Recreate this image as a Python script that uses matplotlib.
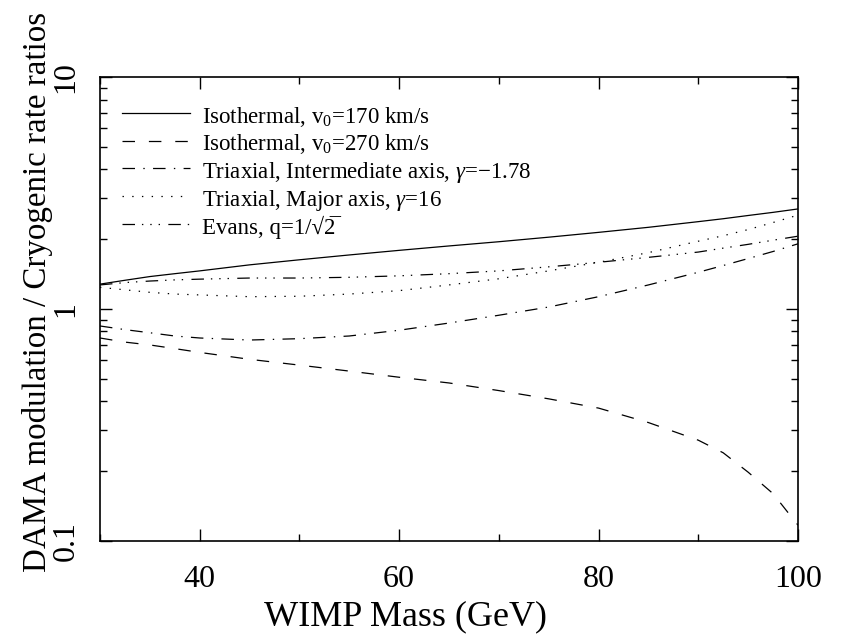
import numpy as np
import matplotlib
matplotlib.use("Agg")
import matplotlib.pyplot as plt
from matplotlib.ticker import MultipleLocator, LogLocator, NullFormatter, FixedLocator

# === Fonts ===
plt.rcParams["font.family"] = ["Liberation Serif", "DejaVu Serif"]
plt.rcParams["mathtext.fontset"] = "custom"
plt.rcParams["mathtext.rm"] = "Liberation Serif"
plt.rcParams["mathtext.it"] = "Liberation Serif:italic"
plt.rcParams["lines.scale_dashes"] = False

# === Data ===
mass = [30, 32.5, 35, 37.5, 40, 45, 50, 55, 60, 65, 70, 75, 80, 85, 90, 92.5, 95, 97.5, 100]

iso_170 = [1.28, 1.33, 1.38, 1.42, 1.46, 1.55, 1.63, 1.71, 1.79, 1.87, 1.95, 2.04,
           2.14, 2.25, 2.38, 2.45, 2.53, 2.61, 2.70]
iso_270 = [0.75, 0.72, 0.70, 0.675, 0.65, 0.607, 0.573, 0.54, 0.508, 0.48, 0.445, 0.41,
           0.374, 0.324, 0.272, 0.24, 0.198, 0.16, 0.117]
tri_inter = [0.845, 0.815, 0.79, 0.765, 0.75, 0.735, 0.745, 0.765, 0.81, 0.87, 0.94, 1.02,
             1.13, 1.27, 1.44, 1.54, 1.65, 1.77, 1.91]
tri_major = [1.24, 1.21, 1.18, 1.16, 1.15, 1.13, 1.135, 1.16, 1.20, 1.27, 1.35, 1.46,
             1.59, 1.75, 1.96, 2.07, 2.20, 2.36, 2.54]
evans = [1.27, 1.30, 1.32, 1.335, 1.345, 1.36, 1.36, 1.37, 1.39, 1.42, 1.46, 1.52,
         1.59, 1.67, 1.76, 1.83, 1.90, 1.98, 2.06]

labels = [
    r"Isothermal, v$_0$=170 km/s",
    r"Isothermal, v$_0$=270 km/s",
    r"Triaxial, Intermediate axis, $\gamma$=$-$1.78",
    r"Triaxial, Major axis, $\gamma$=16",
    "Evans, q=1/\u221a2\u0305",
]

# === Plot ===
fig = plt.figure(figsize=(8.43, 6.34), dpi=100)
ax = fig.add_axes([0.1186, 0.1467, 0.8280, 0.7318])

lw = 0.9
ax.plot(mass, iso_170, color="black", lw=lw, linestyle="-", label=labels[0])
ax.plot(mass, iso_270, color="black", lw=lw, linestyle=(0, (9, 10)), label=labels[1])
ax.plot(mass, tri_inter, color="black", lw=lw, linestyle=(0, (9, 6, 1, 6)), label=labels[2])
ax.plot(mass, tri_major, color="black", lw=lw, linestyle=(0, (1, 6)), label=labels[3])
ax.plot(mass, evans, color="black", lw=lw,
        linestyle=(0, (9, 5, 1, 5, 1, 5, 1, 6)), label=labels[4])

ax.set_xlim(30, 100)
ax.set_yscale("log")
ax.set_ylim(0.1, 10)

ax.xaxis.set_major_locator(FixedLocator([40, 60, 80, 100]))
ax.xaxis.set_minor_locator(MultipleLocator(10))
ax.yaxis.set_major_locator(FixedLocator([0.1, 1, 10]))
ax.yaxis.set_minor_locator(LogLocator(base=10, subs=np.arange(2, 10)))
ax.yaxis.set_minor_formatter(NullFormatter())
ax.set_xticklabels(["40", "60", "80", "100"])
ax.set_yticklabels(["0.1", "1", "10"], rotation=90, va="center")

ax.tick_params(which="both", direction="in", top=True, right=True, width=1.0)
ax.tick_params(which="major", length=8.6, labelsize=23)
ax.tick_params(axis="x", which="major", pad=17)
ax.tick_params(axis="y", which="major", pad=14)
ax.tick_params(which="minor", length=5)
for s in ax.spines.values():
    s.set_linewidth(1.2)

ax.set_xlabel("WIMP Mass (GeV)", fontsize=26)
ax.set_ylabel("DAMA modulation / Cryogenic rate ratios", fontsize=23.8)
ax.xaxis.set_label_coords(0.437, -0.127)
ax.yaxis.set_label_coords(-0.067, 0.537)

ax.legend(loc="upper left", bbox_to_anchor=(0.031, 0.943), frameon=False,
          fontsize=16.5, handlelength=3.0, handletextpad=0.5, handleheight=1.2,
          labelspacing=0.08, borderpad=0, borderaxespad=0)

plt.savefig("out.png", dpi=100)
